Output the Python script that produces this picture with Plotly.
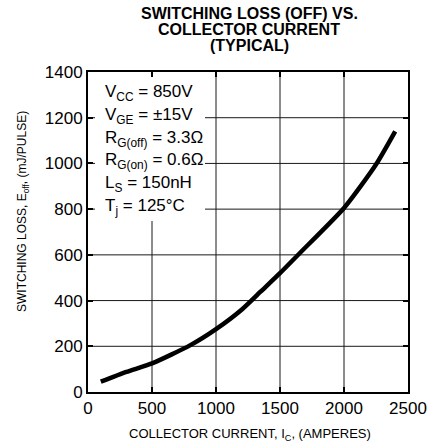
import plotly.graph_objects as go

# Data
current_a = [100, 300, 500, 800, 1000, 1200, 1350, 1500, 1650, 2000, 2250, 2400]
eoff_mj = [45, 88, 125, 205, 275, 360, 440, 520, 605, 805, 995, 1140]

x_ticks = [0, 500, 1000, 1500, 2000, 2500]
y_ticks = [0, 200, 400, 600, 800, 1000, 1200, 1400]

title_lines = ["SWITCHING LOSS (OFF) VS.", "COLLECTOR CURRENT", "(TYPICAL)"]
cond_lines = [
    "V<sub>CC</sub> = 850V",
    "V<sub>GE</sub> = \u00b115V",
    "R<sub>G(off)</sub> = 3.3\u03a9",
    "R<sub>G(on)</sub> = 0.6\u03a9",
    "L<sub>S</sub> = 150nH",
    "T<sub>j</sub> = 125\u00b0C",
]

W, H = 441, 447
ML, MR, MT, MB = 88, 33, 72, 55
PW, PH = W - ML - MR, H - MT - MB
FONT = "Liberation Sans, Arial, Helvetica, sans-serif"
GRID = dict(color="rgb(25,25,25)", width=1)


def px_x(px):
    return (px - ML) / PW


def px_y(py):
    return (H - MB - py) / PH


fig = go.Figure()
fig.add_trace(go.Scatter(
    x=current_a, y=eoff_mj, mode="lines",
    line=dict(color="black", width=4.5, shape="spline", smoothing=0.6),
    showlegend=False, hoverinfo="skip",
))

axis_common = dict(
    showline=True, linecolor="black", linewidth=2, mirror="ticks",
    ticks="inside", ticklen=5, tickwidth=2, tickcolor="black",
    showgrid=False, zeroline=False,
    tickfont=dict(family=FONT, size=17, color="black"),
    tickmode="array",
)

fig.update_xaxes(range=[0, 2500], tickvals=x_ticks, **axis_common)
fig.update_yaxes(range=[0, 1400], tickvals=y_ticks, **axis_common)

# grid lines at the interior tick positions
for v in x_ticks[1:-1]:
    fig.add_shape(type="line", xref="x", yref="paper", x0=v, x1=v, y0=0, y1=1,
                  line=GRID, layer="below")
for v in y_ticks[1:-1]:
    fig.add_shape(type="line", xref="paper", yref="y", x0=0, x1=1, y0=v, y1=v,
                  line=GRID, layer="below")

annotations = []
# white box behind the condition text (hides grid lines)
bx0, bx1, by0, by1 = 95, 205, 77, 221
annotations.append(dict(
    text=" ", xref="paper", yref="paper",
    x=px_x(bx0), y=px_y(by0), xanchor="left", yanchor="top",
    width=bx1 - bx0, height=by1 - by0, bgcolor="white", borderpad=0, borderwidth=0,
    showarrow=False, font=dict(family=FONT, size=12),
))
for i, t in enumerate(title_lines):
    annotations.append(dict(
        text=f"<b>{t}</b>", xref="paper", yref="paper",
        x=px_x(249), y=px_y([13.5, 29.5, 45.5][i]), xanchor="center", yanchor="middle",
        showarrow=False, font=dict(family=FONT, size=16, color="black"),
    ))
for i, t in enumerate(cond_lines):
    annotations.append(dict(
        text=t, xref="paper", yref="paper",
        x=px_x(103), y=px_y(93 + i * 22.8), xanchor="left", yanchor="middle",
        showarrow=False, font=dict(family=FONT, size=17, color="black"),
    ))
annotations.append(dict(
    text="COLLECTOR CURRENT, I<sub>C</sub>, (AMPERES)", xref="paper", yref="paper",
    x=px_x(250), y=px_y(434), xanchor="center", yanchor="middle",
    showarrow=False, font=dict(family=FONT, size=13, color="black"),
))
annotations.append(dict(
    text="SWITCHING LOSS, E<sub>off</sub>, (mJ/PULSE)", xref="paper", yref="paper",
    x=px_x(23), y=px_y(212), xanchor="center", yanchor="middle", textangle=-90,
    showarrow=False, font=dict(family=FONT, size=12, color="black"),
))

fig.update_layout(
    template="none",
    width=W, height=H, autosize=False,
    margin=dict(l=ML, r=MR, t=MT, b=MB),
    paper_bgcolor="white", plot_bgcolor="white",
    annotations=annotations,
    font=dict(family=FONT, color="black"),
)

fig.write_html("out.html", config={"displayModeBar": False})
